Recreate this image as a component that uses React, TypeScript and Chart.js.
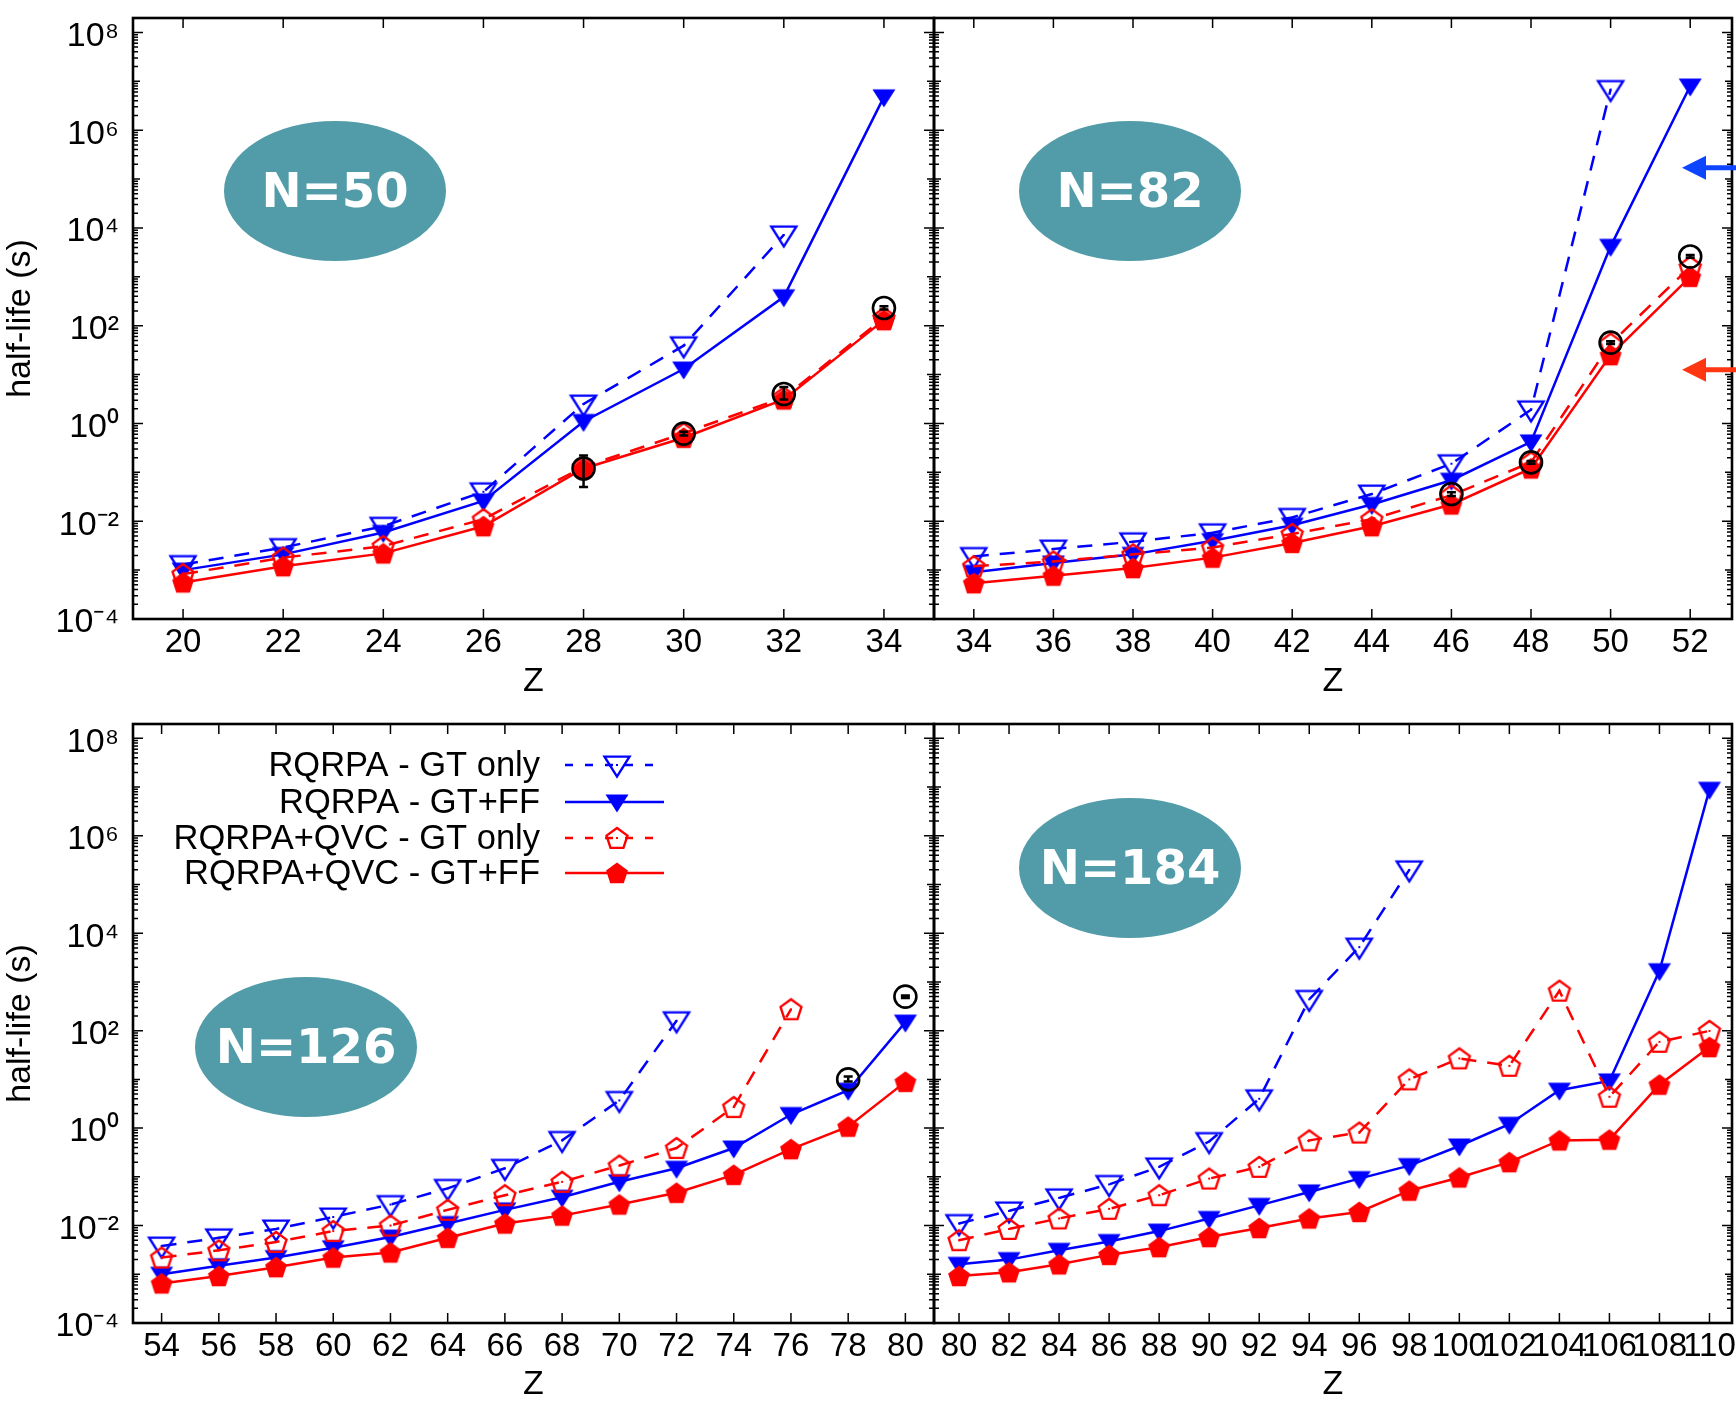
import React, { useEffect, useRef } from 'react';
import { Chart, registerables } from 'chart.js';

Chart.register(...registerables);

// ---------------- data ----------------
const yTickExps = [-4, -2, 0, 2, 4, 6, 8];

// N = 50
const zN50 = [20, 22, 24, 26, 28, 30, 32, 34];
const n50Ticks = [20, 22, 24, 26, 28, 30, 32, 34];
const n50RqrpaGtOnly = [1.3e-3, 2.9e-3, 7.9e-3, 0.04, 2.5, 39, 7.2e3, null];
const n50RqrpaGtFf = [1.0e-3, 2.1e-3, 5.9e-3, 0.026, 1.1, 13, 390, 4.8e6];
const n50QvcGtOnly = [8.3e-4, 1.8e-3, 3.1e-3, 0.011, 0.13, 0.63, 3.4, 145];
const n50QvcGtFf = [5.6e-4, 1.2e-3, 2.2e-3, 7.9e-3, 0.12, 0.51, 3.1, 130];
const n50ExpZ = [28, 30, 32, 34];
const n50Exp = [0.12, 0.62, 4.0, 230];
const n50ExpLow = [0.05, 0.57, 3.1, 215];
const n50ExpHigh = [0.22, 0.68, 5.6, 250];

// N = 82
const zN82 = [34, 36, 38, 40, 42, 44, 46, 48, 50, 52];
const n82Ticks = [34, 36, 38, 40, 42, 44, 46, 48, 50, 52];
const n82RqrpaGtOnly = [1.9e-3, 2.7e-3, 3.8e-3, 5.8e-3, 0.012, 0.036, 0.15, 1.9, 6.8e6, null];
const n82RqrpaGtFf = [9e-4, 1.4e-3, 2.1e-3, 4e-3, 8.3e-3, 0.022, 0.069, 0.42, 4.2e3, 8.0e6];
const n82QvcGtOnly = [1.2e-3, 1.5e-3, 2.1e-3, 2.9e-3, 5.5e-3, 0.011, 0.034, 0.16, 43, 1.6e3];
const n82QvcGtFf = [5.4e-4, 7.7e-4, 1.1e-3, 1.8e-3, 3.6e-3, 7.9e-3, 0.022, 0.12, 25, 1.0e3];
const n82ExpZ = [46, 48, 50, 52];
const n82Exp = [0.036, 0.16, 45, 2.6e3];
const n82ExpLow = [0.033, 0.15, 42, 2.45e3];
const n82ExpHigh = [0.039, 0.17, 48, 2.8e3];
const n82ArrowValues = [1.7e5, 12.5];

// N = 126
const zN126 = [54, 56, 58, 60, 62, 64, 66, 68, 70, 72, 74, 76, 78, 80];
const n126Ticks = [54, 56, 58, 60, 62, 64, 66, 68, 70, 72, 74, 76, 78, 80];
const n126RqrpaGtOnly = [3.8e-3, 5.6e-3, 8.5e-3, 0.015, 0.027, 0.058, 0.15, 0.56, 3.7, 160, null, null, null, null];
const n126RqrpaGtFf = [1.0e-3, 1.5e-3, 2.2e-3, 3.5e-3, 5.8e-3, 0.011, 0.021, 0.038, 0.079, 0.15, 0.39, 1.9, 6.0, 150];
const n126QvcGtOnly = [2.2e-3, 3.1e-3, 4.6e-3, 7.7e-3, 0.010, 0.021, 0.042, 0.079, 0.17, 0.39, 2.7, 275, null, null];
const n126QvcGtFf = [6.5e-4, 9.2e-4, 1.4e-3, 2.2e-3, 2.8e-3, 5.6e-3, 0.011, 0.016, 0.027, 0.047, 0.11, 0.37, 1.07, 8.9];
const n126ExpZ = [78, 80];
const n126Exp = [10, 500];
const n126ExpLow = [9.0, 470];
const n126ExpHigh = [11.5, 530];

// N = 184
const zN184 = [80, 82, 84, 86, 88, 90, 92, 94, 96, 98, 100, 102, 104, 106, 108, 110];
const n184Ticks = [80, 82, 84, 86, 88, 90, 92, 94, 96, 98, 100, 102, 104, 106, 108, 110];
const n184RqrpaGtOnly = [0.011, 0.020, 0.037, 0.07, 0.16, 0.53, 4.0, 440, 5.2e3, 2.0e5, null, null, null, null, null, null];
const n184RqrpaGtFf = [1.6e-3, 2.0e-3, 3.1e-3, 4.7e-3, 7.7e-3, 0.014, 0.026, 0.049, 0.092, 0.17, 0.43, 1.2, 6.0, 9.3, 1.7e3, 9.0e6];
const n184QvcGtOnly = [5.0e-3, 8.5e-3, 0.014, 0.022, 0.042, 0.092, 0.16, 0.56, 0.81, 10, 27, 19, 660, 4.4, 59, 99];
const n184QvcGtFf = [9.2e-4, 1.1e-3, 1.6e-3, 2.5e-3, 3.6e-3, 5.8e-3, 8.9e-3, 0.014, 0.019, 0.052, 0.097, 0.20, 0.56, 0.58, 7.8, 46];

const seriesLabels = ['RQRPA - GT only', 'RQRPA - GT+FF', 'RQRPA+QVC - GT only', 'RQRPA+QVC - GT+FF'];

// ---------------- styles / layout ----------------
const CW = 1800;
const CH = 1403;
const BLUE = '#0000ff';
const RED = '#ff0000';
const TEAL = '#519ca8';
const FONT = "'Liberation Sans', Arial, Helvetica, sans-serif";
const DASH = [15, 11];

type Panel = {
  key: string;
  label: string;
  z: number[];
  ticks: number[];
  series: (number | null)[][];
  expZ: number[];
  exp: number[];
  expLow: number[];
  expHigh: number[];
  xMin: number;
  xMax: number;
  area: { left: number; top: number; right: number; bottom: number };
  xh: number;
  yAxis: boolean;
  ell: { dx: number; dy: number };
  legend: boolean;
  arrows: number[];
};

const panels: Panel[] = [
  {
    key: 'n50', label: 'N=50', z: zN50, ticks: n50Ticks,
    series: [n50RqrpaGtOnly, n50RqrpaGtFf, n50QvcGtOnly, n50QvcGtFf],
    expZ: n50ExpZ, exp: n50Exp, expLow: n50ExpLow, expHigh: n50ExpHigh,
    xMin: 19, xMax: 35, area: { left: 133, top: 18, right: 934, bottom: 619 }, xh: 83,
    yAxis: true, ell: { dx: 202, dy: 173 }, legend: false, arrows: [],
  },
  {
    key: 'n82', label: 'N=82', z: zN82, ticks: n82Ticks,
    series: [n82RqrpaGtOnly, n82RqrpaGtFf, n82QvcGtOnly, n82QvcGtFf],
    expZ: n82ExpZ, exp: n82Exp, expLow: n82ExpLow, expHigh: n82ExpHigh,
    xMin: 33, xMax: 53.05, area: { left: 934, top: 18, right: 1732, bottom: 619 }, xh: 83,
    yAxis: false, ell: { dx: 196, dy: 173 }, legend: false, arrows: n82ArrowValues,
  },
  {
    key: 'n126', label: 'N=126', z: zN126, ticks: n126Ticks,
    series: [n126RqrpaGtOnly, n126RqrpaGtFf, n126QvcGtOnly, n126QvcGtFf],
    expZ: n126ExpZ, exp: n126Exp, expLow: n126ExpLow, expHigh: n126ExpHigh,
    xMin: 53, xMax: 81, area: { left: 133, top: 724, right: 934, bottom: 1323 }, xh: 82,
    yAxis: true, ell: { dx: 173, dy: 323 }, legend: true, arrows: [],
  },
  {
    key: 'n184', label: 'N=184', z: zN184, ticks: n184Ticks,
    series: [n184RqrpaGtOnly, n184RqrpaGtFf, n184QvcGtOnly, n184QvcGtFf],
    expZ: [], exp: [], expLow: [], expHigh: [],
    xMin: 79, xMax: 110.9, area: { left: 934, top: 724, right: 1732, bottom: 1323 }, xh: 82,
    yAxis: false, ell: { dx: 196, dy: 144 }, legend: false, arrows: [],
  },
];

const SUP: Record<string, string> = {
  '-': '\u207b', '0': '\u2070', '1': '\u00b9', '2': '\u00b2', '3': '\u00b3', '4': '\u2074',
  '5': '\u2075', '6': '\u2076', '7': '\u2077', '8': '\u2078', '9': '\u2079',
};
const sup = (n: number) => String(n).split('').map((c) => SUP[c] || c).join('');

// ---------------- markers ----------------
type Markers = { openTri: HTMLCanvasElement; fillTri: HTMLCanvasElement; openPent: HTMLCanvasElement; fillPent: HTMLCanvasElement };
let markerCache: Markers | null = null;

function makeMarker(kind: 'tri' | 'pent', filled: boolean, color: string): HTMLCanvasElement {
  const S = 32;
  const c = document.createElement('canvas');
  c.width = S;
  c.height = S;
  const g = c.getContext('2d')!;
  const cx = S / 2;
  const cy = S / 2;
  g.beginPath();
  if (kind === 'tri') {
    const w = filled ? 23 : 25;
    const h = filled ? 18 : 20;
    g.moveTo(cx - w / 2, cy - h * 0.42);
    g.lineTo(cx + w / 2, cy - h * 0.42);
    g.lineTo(cx, cy + h * 0.58);
    g.closePath();
  } else {
    const R = filled ? 11.5 : 11;
    for (let i = 0; i < 5; i++) {
      const a = -Math.PI / 2 + (i * 2 * Math.PI) / 5;
      const px = cx + R * Math.cos(a);
      const py = cy + 1 + R * Math.sin(a);
      if (i === 0) g.moveTo(px, py);
      else g.lineTo(px, py);
    }
    g.closePath();
  }
  if (filled) {
    g.fillStyle = color;
    g.fill();
  } else {
    g.strokeStyle = color;
    g.lineWidth = 2.4;
    g.lineJoin = 'miter';
    g.stroke();
    g.fillStyle = color;
    g.fillRect(cx - 1, cy - 1, 2, 2);
  }
  return c;
}

function getMarkers(): Markers {
  if (!markerCache) {
    markerCache = {
      openTri: makeMarker('tri', false, BLUE),
      fillTri: makeMarker('tri', true, BLUE),
      openPent: makeMarker('pent', false, RED),
      fillPent: makeMarker('pent', true, RED),
    };
  }
  return markerCache;
}

// ---------------- chart building ----------------
function buildChart(canvas: HTMLCanvasElement, p: Panel): Chart {
  const m = getMarkers();
  const pts = (xs: number[], ys: (number | null)[]) => xs.map((x, i) => ({ x, y: ys[i] }));
  const styles = [
    { color: BLUE, dash: DASH, marker: m.openTri, order: 4 },
    { color: BLUE, dash: [] as number[], marker: m.fillTri, order: 3 },
    { color: RED, dash: DASH, marker: m.openPent, order: 2 },
    { color: RED, dash: [] as number[], marker: m.fillPent, order: 1 },
  ];
  const datasets: any[] = p.series.map((s, i) => ({
    label: seriesLabels[i],
    data: pts(p.z, s),
    borderColor: styles[i].color,
    backgroundColor: styles[i].color,
    borderWidth: 2.5,
    borderDash: styles[i].dash,
    pointStyle: styles[i].marker,
    pointRadius: 10,
    pointHoverRadius: 10,
    tension: 0,
    fill: false,
    order: styles[i].order,
  }));
  if (p.expZ.length) {
    datasets.push({
      label: 'experiment',
      data: pts(p.expZ, p.exp),
      showLine: false,
      pointStyle: 'circle',
      pointRadius: 11,
      pointHoverRadius: 11,
      pointBorderWidth: 2.6,
      pointBorderColor: '#000',
      pointBackgroundColor: 'rgba(0,0,0,0)',
      borderColor: '#000',
      order: 0,
    });
  }

  const framePlugin = {
    id: 'frame',
    afterDraw(chart: any) {
      const { ctx, chartArea: a, scales } = chart;
      const xs = scales.x;
      const ys = scales.y;
      ctx.save();
      ctx.strokeStyle = '#000';
      ctx.lineWidth = 1.5;
      ctx.beginPath();
      p.ticks.forEach((t) => {
        const px = xs.getPixelForValue(t);
        ctx.moveTo(px, a.bottom);
        ctx.lineTo(px, a.bottom - 10);
        ctx.moveTo(px, a.top);
        ctx.lineTo(px, a.top + 10);
      });
      for (let k = -4; k <= 8; k++) {
        for (let mm = 1; mm <= 9; mm++) {
          const v = mm * Math.pow(10, k);
          if (v > ys.max * 1.0001) break;
          const py = ys.getPixelForValue(v);
          const len = mm === 1 ? (k % 2 === 0 ? 10 : 7) : 5;
          ctx.moveTo(a.left, py);
          ctx.lineTo(a.left + len, py);
          ctx.moveTo(a.right, py);
          ctx.lineTo(a.right - len, py);
        }
      }
      ctx.stroke();
      ctx.lineWidth = 2.6;
      ctx.strokeRect(a.left, a.top, a.right - a.left, a.bottom - a.top);
      ctx.restore();
    },
  };

  const ellipsePlugin = {
    id: 'ellipse',
    beforeDatasetsDraw(chart: any) {
      const { ctx, chartArea: a } = chart;
      const cx = a.left + p.ell.dx;
      const cy = a.top + p.ell.dy;
      ctx.save();
      ctx.fillStyle = TEAL;
      ctx.beginPath();
      ctx.ellipse(cx, cy, 111, 70, 0, 0, Math.PI * 2);
      ctx.fill();
      ctx.fillStyle = '#fff';
      ctx.font = "bold 48px 'DejaVu Sans', Verdana, sans-serif";
      ctx.textAlign = 'center';
      ctx.textBaseline = 'middle';
      ctx.fillText(p.label, cx, cy + 4);
      ctx.restore();
    },
  };

  const errorPlugin = {
    id: 'errbars',
    afterDatasetsDraw(chart: any) {
      if (!p.expZ.length) return;
      const { ctx, scales } = chart;
      ctx.save();
      ctx.strokeStyle = '#000';
      ctx.lineWidth = 2.5;
      ctx.beginPath();
      p.expZ.forEach((z, i) => {
        const px = scales.x.getPixelForValue(z);
        const y1 = scales.y.getPixelForValue(p.expLow[i]);
        const y2 = scales.y.getPixelForValue(p.expHigh[i]);
        ctx.moveTo(px, y1);
        ctx.lineTo(px, y2);
        ctx.moveTo(px - 4.5, y1);
        ctx.lineTo(px + 4.5, y1);
        ctx.moveTo(px - 4.5, y2);
        ctx.lineTo(px + 4.5, y2);
      });
      ctx.stroke();
      ctx.restore();
    },
  };

  const legendPlugin = {
    id: 'gpLegend',
    afterDraw(chart: any) {
      if (!p.legend) return;
      const { ctx, chartArea: a } = chart;
      const rows = [41, 78, 114, 149];
      ctx.save();
      ctx.font = `34.5px ${FONT}`;
      ctx.fillStyle = '#000';
      ctx.textAlign = 'right';
      ctx.textBaseline = 'middle';
      for (let i = 0; i < 4; i++) {
        const ds = chart.data.datasets[i];
        const y = a.top + rows[i];
        ctx.fillText(ds.label, a.left + 407, y + 1);
        ctx.strokeStyle = ds.borderColor;
        ctx.lineWidth = 2.5;
        ctx.setLineDash(ds.borderDash && ds.borderDash.length ? [8, 12] : []);
        ctx.beginPath();
        ctx.moveTo(a.left + 432, y);
        ctx.lineTo(a.left + 531, y);
        ctx.stroke();
        ctx.setLineDash([]);
        const img = ds.pointStyle as HTMLCanvasElement;
        ctx.drawImage(img, a.left + 484 - img.width / 2, y - img.height / 2);
      }
      ctx.restore();
    },
  };

  const arrowPlugin = {
    id: 'arrows',
    afterDraw(chart: any) {
      if (!p.arrows.length) return;
      const { ctx, chartArea: a, scales } = chart;
      const colors = ['#0d45ff', '#ff3612'];
      p.arrows.forEach((v, i) => {
        const y = scales.y.getPixelForValue(v);
        const tip = a.right - 50;
        ctx.save();
        ctx.strokeStyle = colors[i];
        ctx.fillStyle = colors[i];
        ctx.lineWidth = 5;
        ctx.beginPath();
        ctx.moveTo(tip + 20, y);
        ctx.lineTo(a.right + 20, y);
        ctx.stroke();
        ctx.beginPath();
        ctx.moveTo(tip, y);
        ctx.lineTo(tip + 24, y - 12);
        ctx.lineTo(tip + 24, y + 12);
        ctx.closePath();
        ctx.fill();
        ctx.restore();
      });
    },
  };

  const chart = new Chart(canvas, {
    type: 'line',
    data: { datasets },
    plugins: [ellipsePlugin, errorPlugin, framePlugin, legendPlugin, arrowPlugin],
    options: {
      animation: false,
      responsive: false,
      maintainAspectRatio: false,
      devicePixelRatio: 1,
      events: [],
      layout: {
        padding: {
          left: p.yAxis ? 0 : p.area.left,
          right: CW - p.area.right,
          top: p.area.top,
          bottom: CH - p.area.bottom - p.xh,
        },
      },
      plugins: {
        legend: { display: false },
        tooltip: { enabled: false },
        title: { display: false },
      },
      scales: {
        x: {
          type: 'linear',
          min: p.xMin,
          max: p.xMax,
          bounds: 'data',
          afterBuildTicks: (s: any) => {
            s.ticks = p.ticks.map((v) => ({ value: v }));
          },
          afterFit: (s: any) => {
            s.height = p.xh;
            s.paddingLeft = 0;
            s.paddingRight = 0;
            s.paddingTop = 0;
            s.paddingBottom = 0;
          },
          ticks: {
            callback: (v: any) => String(v),
            font: { size: 33, family: FONT },
            color: '#000',
            padding: 4,
            autoSkip: false,
            maxRotation: 0,
            minRotation: 0,
          },
          grid: { display: false, drawTicks: false },
          border: { display: false },
          title: { display: true, text: 'Z', font: { size: 34, family: FONT }, color: '#000', padding: 0 },
        },
        y: {
          type: 'logarithmic',
          min: 1e-4,
          max: 1.97e8,
          bounds: 'data',
          display: p.yAxis,
          afterBuildTicks: (s: any) => {
            s.ticks = yTickExps.map((e) => ({ value: Math.pow(10, e) }));
          },
          afterFit: (s: any) => {
            s.width = p.yAxis ? p.area.left : 0;
            s.paddingLeft = 0;
            s.paddingRight = 0;
            s.paddingTop = 0;
            s.paddingBottom = 0;
          },
          ticks: {
            callback: (v: any) => '10' + sup(Math.round(Math.log10(Number(v)))),
            font: { size: 34, family: FONT },
            color: '#000',
            padding: 14,
            labelOffset: 4,
            autoSkip: false,
          },
          grid: { display: false, drawTicks: false },
          border: { display: false },
          title: { display: p.yAxis, text: 'half-life (s)', font: { size: 34, family: FONT }, color: '#000', padding: 0 },
        },
      },
    } as any,
  });
  return chart;
}

function PanelChart({ p }: { p: Panel }) {
  const ref = useRef<HTMLCanvasElement>(null);
  useEffect(() => {
    if (!ref.current) return;
    const c = buildChart(ref.current, p);
    return () => c.destroy();
  }, [p]);
  return (
    <canvas
      ref={ref}
      width={CW}
      height={CH}
      style={{ position: 'absolute', left: 0, top: 0, width: CW, height: CH }}
    />
  );
}

export default function App() {
  Chart.defaults.font.family = FONT;
  Chart.defaults.color = '#000';
  return (
    <div
      style={{
        position: 'fixed',
        left: 0,
        top: 0,
        width: 1736,
        height: 1403,
        overflow: 'hidden',
        background: '#fff',
      }}
    >
      {panels.map((p) => (
        <PanelChart key={p.key} p={p} />
      ))}
    </div>
  );
}
